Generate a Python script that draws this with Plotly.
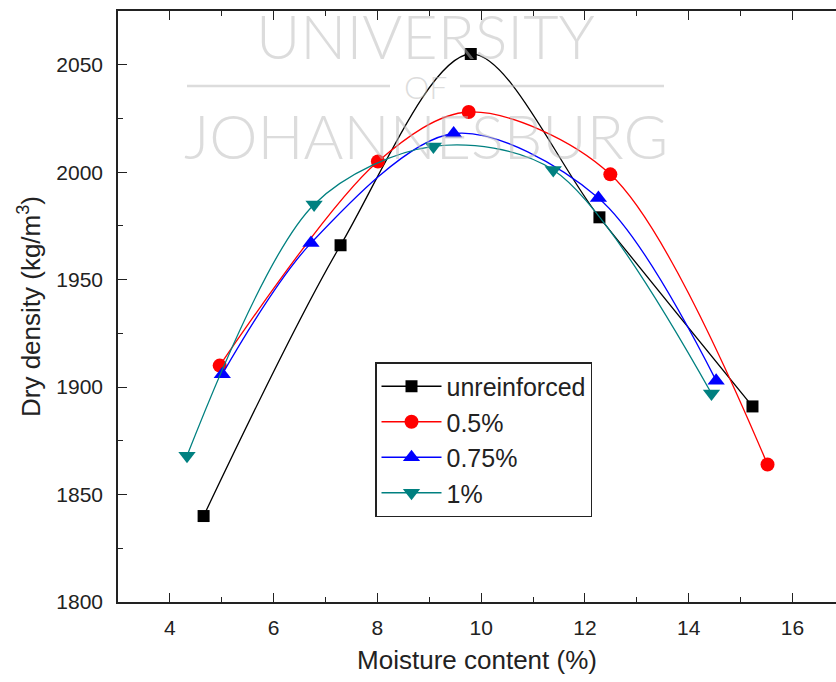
import plotly.graph_objects as go

# Compaction results: dry density vs. moisture content for each fibre content
series_names = ["unreinforced", "0.5%", "0.75%", "1%"]

moisture_unreinforced = [4.65, 7.29, 9.80, 12.28, 15.23]
density_unreinforced = [1840, 1966, 2055, 1979, 1891]

moisture_05 = [4.96, 8.01, 9.76, 12.49, 15.52]
density_05 = [1910, 2005, 2028, 1999, 1864]

moisture_075 = [5.01, 6.72, 9.47, 12.26, 14.53]
density_075 = [1906, 1967, 2018, 1988, 1903]

moisture_1 = [4.33, 6.78, 9.08, 11.39, 14.44]
density_1 = [1868, 1985, 2012, 2001, 1897]

x_ticks = [4, 6, 8, 10, 12, 14, 16]
y_ticks = [1800, 1850, 1900, 1950, 2000, 2050]

styles = [
    ("#000000", "square", 12),
    ("#ff0000", "circle", 14),
    ("#0000ff", "triangle-up", 15),
    ("#008080", "triangle-down", 15),
]
xs = [moisture_unreinforced, moisture_05, moisture_075, moisture_1]
ys = [density_unreinforced, density_05, density_075, density_1]

fig = go.Figure()
for name, x, y, (color, symbol, size) in zip(series_names, xs, ys, styles):
    fig.add_trace(go.Scatter(
        x=x, y=y, name=name, mode="lines+markers",
        line=dict(color=color, width=1.3, shape="spline", smoothing=0.9),
        marker=dict(color=color, symbol=symbol, size=size, line=dict(width=0)),
    ))

# plot-area geometry (pixels) used to place the watermark in paper coordinates
L, T, B, W, H = 118, 11, 80, 836, 682
pw, ph = W - L, H - T - B


def px(xp):
    return (xp - L) / pw


def py(yp):
    return (H - B - yp) / ph


wm_color = "rgba(185,185,185,0.5)"
wm_font = dict(family="Lato, Open Sans, sans-serif", color=wm_color, weight=300)
annotations = [
    dict(text="UNIVERSITY", x=px(425), y=py(36), xref="paper", yref="paper",
         xanchor="center", yanchor="middle",
         showarrow=False, font=dict(size=61, **wm_font)),
    dict(text="OF", x=px(425), y=py(86), xref="paper", yref="paper",
         xanchor="center", yanchor="middle",
         showarrow=False, font=dict(size=32, **wm_font)),
    dict(text="JOHANNESBURG", x=px(426), y=py(135), xref="paper", yref="paper",
         xanchor="center", yanchor="middle",
         showarrow=False, font=dict(size=61, **wm_font)),
]
shapes = [
    dict(type="line", xref="paper", yref="paper", x0=px(187), x1=px(390),
         y0=py(86), y1=py(86), line=dict(color=wm_color, width=2.5)),
    dict(type="line", xref="paper", yref="paper", x0=px(460), x1=px(664),
         y0=py(86), y1=py(86), line=dict(color=wm_color, width=2.5)),
]

axis_common = dict(
    showgrid=False, zeroline=False, showline=True, linecolor="#222222", linewidth=1.5,
    ticks="inside", ticklen=9, tickwidth=1.3, tickcolor="#222222",
    tickfont=dict(family="Liberation Sans, Arial, sans-serif", size=21, color="#222222"),
)

fig.update_layout(
    width=W, height=H,
    margin=dict(l=L, r=0, t=T, b=B),
    paper_bgcolor="white", plot_bgcolor="white",
    font=dict(family="Liberation Sans, Arial, sans-serif", color="#222222"),
    xaxis=dict(
        range=[3, 16.84], tickvals=x_ticks, mirror="ticks",
        minor=dict(dtick=1, ticks="inside", ticklen=5, tickcolor="#222222", tick0=3),
        ticklabelstandoff=6,
        title=dict(text="Moisture content (%)", font=dict(size=26), standoff=13),
        **axis_common,
    ),
    yaxis=dict(
        range=[1800, 2075], tickvals=y_ticks, mirror=False,
        minor=dict(dtick=25, ticks="inside", ticklen=5, tickcolor="#222222", tick0=1800),
        ticklabelstandoff=9,
        title=dict(text="Dry density (kg/m<sup>3</sup>)", font=dict(size=26), standoff=8),
        **axis_common,
    ),
    legend=dict(
        x=px(375), y=py(362), xanchor="left", yanchor="top",
        bgcolor="white", bordercolor="#222222", borderwidth=1.5,
        font=dict(size=25, color="#222222"),
        itemwidth=60,
    ),
    annotations=annotations,
    shapes=shapes,
)

fig.write_html("out.html")
